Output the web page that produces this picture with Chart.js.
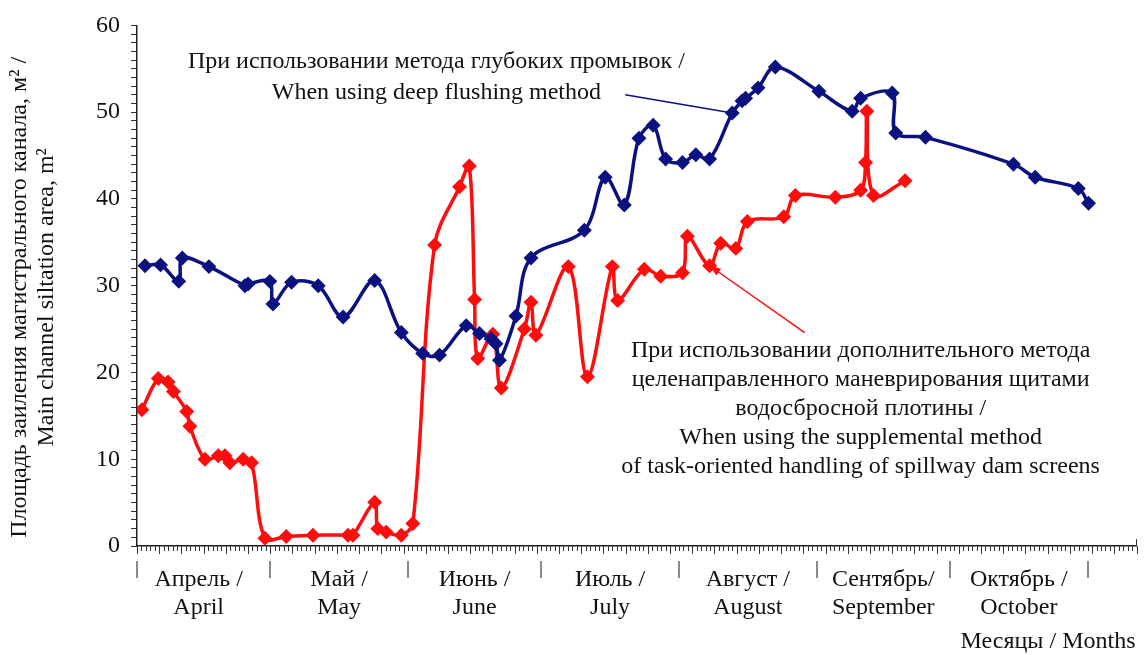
<!DOCTYPE html>
<html lang="ru">
<head>
<meta charset="utf-8">
<title>Площадь заиления магистрального канала</title>
<script src="https://cdn.jsdelivr.net/npm/chart.js@4.4.1/dist/chart.umd.min.js"></script>
<style>
  html, body { margin: 0; padding: 0; background: #fff; }
  canvas { display: block; }
</style>
</head>
<body>
<canvas id="siltChart" width="1145" height="655"></canvas>
<script>
// x is counted in days from 1 April
const monthNames = [
  ['Апрель /', 'April'], ['Май /', 'May'], ['Июнь /', 'June'], ['Июль /', 'July'],
  ['Август /', 'August'], ['Сентябрь/', 'September'], ['Октябрь /', 'October']
];
const monthStarts = [0, 30, 61, 91, 122, 153, 183, 214];

// deep flushing only
const flushDays = [1.8, 5.3, 9.4, 10.2, 16.2, 24.3, 25.0, 29.9, 30.6, 34.8, 40.8, 46.4, 53.5, 59.5,
  64.3, 68.1, 74.1, 77.1, 79.7, 80.8, 81.6, 85.3, 88.7, 100.7, 105.4, 109.7, 113.0, 116.2, 119.0,
  122.8, 125.8, 128.9, 134.0, 136.2, 137.0, 139.8, 143.7, 153.5, 161.0, 162.9, 170.0, 170.8, 177.5,
  197.3, 202.2, 211.9, 214.2];
const flushArea = [32.3, 32.4, 30.5, 33.2, 32.2, 30.0, 30.2, 30.5, 27.9, 30.4, 30.0, 26.4, 30.6, 24.6,
  22.2, 22.0, 25.4, 24.5, 23.9, 23.3, 21.4, 26.5, 33.2, 36.4, 42.5, 39.3, 47.0, 48.5, 44.6,
  44.2, 45.1, 44.6, 49.9, 51.3, 51.6, 52.8, 55.2, 52.4, 50.1, 51.6, 52.2, 47.6, 47.1,
  44.0, 42.5, 41.2, 39.5];

// flushing plus spillway gate manoeuvring
const gateDays = [1.1, 4.8, 7.0, 8.2, 11.2, 11.9, 15.3, 18.3, 19.8, 20.9, 23.9, 25.8, 28.8, 33.6,
  39.6, 47.5, 48.6, 53.5, 54.2, 56.1, 59.5, 62.1, 67.0, 72.6, 74.8, 76.0, 76.7, 80.1, 82.0, 87.2,
  88.7, 89.8, 97.1, 101.4, 107.0, 108.2, 114.2, 117.9, 122.8, 123.9, 128.9, 131.4, 134.8, 137.4,
  145.6, 148.2, 157.2, 162.9, 164.0, 164.3, 165.8, 172.9];
const gateArea = [15.7, 19.3, 18.9, 17.8, 15.5, 13.8, 10.0, 10.4, 10.4, 9.6, 10.0, 9.6, 0.9, 1.1,
  1.25, 1.25, 1.25, 5.05, 2.0, 1.6, 1.25, 2.6, 34.7, 41.4, 43.8, 28.4, 21.6, 24.4, 18.2, 25.0,
  28.1, 24.3, 32.2, 19.5, 32.2, 28.3, 31.9, 31.1, 31.5, 35.7, 32.3, 34.9, 34.3, 37.4,
  37.95, 40.4, 40.2, 41.0, 44.2, 50.1, 40.4, 42.1];

const flushNote = ['При использовании метода глубоких промывок /', 'When using deep flushing method'];
const gateNote = [
  'При использовании дополнительного метода',
  'целенаправленного маневрирования щитами',
  'водосбросной плотины /',
  'When using the supplemental method',
  'of task-oriented handling of spillway dam screens'
];
const yTitle = ['Площадь заиления магистрального канала, м² /', 'Main channel siltation area, m²'];
const xTitle = 'Месяцы / Months';

const NAVY = '#0b1280';
const RED = '#ff0d0d';
const INK = '#111';
const SERIF = '24px "Liberation Serif", "Times New Roman", serif';

function toPoints(xs, ys) {
  return xs.map((d, i) => ({ x: d, y: ys[i] }));
}

// axis ticks, month captions and the two callouts
const decorations = {
  id: 'decorations',
  afterDraw(chart) {
    const { ctx, chartArea: area, scales: { x, y } } = chart;
    ctx.save();

    // one tick per day, longer every fifth day
    ctx.strokeStyle = '#333';
    ctx.lineWidth = 1;
    ctx.beginPath();
    for (let d = 0; d <= x.max; d++) {
      const px = Math.round(x.getPixelForValue(d)) + 0.5;
      ctx.moveTo(px, area.bottom);
      ctx.lineTo(px, area.bottom + (d % 5 === 0 ? 8 : 5));
    }
    const xr = Math.round(area.right) - 0.5;
    ctx.moveTo(xr, area.bottom);
    ctx.lineTo(xr, area.bottom - 7);
    ctx.stroke();

    // month boundaries
    ctx.strokeStyle = '#8a8a8a';
    ctx.lineWidth = 2;
    ctx.beginPath();
    monthStarts.forEach(d => {
      const px = Math.round(x.getPixelForValue(d));
      ctx.moveTo(px, area.bottom + 15);
      ctx.lineTo(px, area.bottom + 32);
    });
    ctx.stroke();

    ctx.fillStyle = INK;
    ctx.font = SERIF;
    ctx.textAlign = 'center';
    ctx.textBaseline = 'middle';
    monthNames.forEach((lines, i) => {
      const cx = x.getPixelForValue((monthStarts[i] + monthStarts[i + 1]) / 2) - (i === 0 ? 5 : 0);
      lines.forEach((t, j) => ctx.fillText(t, cx, area.bottom + 34 + j * 28));
    });
    ctx.textAlign = 'right';
    ctx.fillText(xTitle, area.right - 1, area.bottom + 96);

    // rotated y title
    ctx.save();
    ctx.translate(area.left - 117, area.top + 272);
    ctx.rotate(-Math.PI / 2);
    ctx.textAlign = 'center';
    yTitle.forEach((t, j) => ctx.fillText(t, 0, j * 27));
    ctx.restore();

    // callout for the deep flushing curve
    ctx.textAlign = 'center';
    flushNote.forEach((t, j) => ctx.fillText(t, x.getPixelForValue(67.4), y.getPixelForValue(55.8) + j * 31));
    ctx.strokeStyle = NAVY;
    ctx.lineWidth = 1.5;
    ctx.beginPath();
    ctx.moveTo(x.getPixelForValue(109.9), y.getPixelForValue(52.0));
    ctx.lineTo(x.getPixelForValue(134.0), y.getPixelForValue(49.9));
    ctx.stroke();

    // callout for the gate manoeuvring curve
    gateNote.forEach((t, j) => ctx.fillText(t, x.getPixelForValue(162.9), y.getPixelForValue(22.5) + j * 29));
    const x0 = x.getPixelForValue(150.3), y0 = y.getPixelForValue(24.6);
    const x1 = x.getPixelForValue(128.9), y1 = y.getPixelForValue(32.3);
    ctx.strokeStyle = RED;
    ctx.fillStyle = RED;
    ctx.beginPath();
    ctx.moveTo(x0, y0);
    ctx.lineTo(x1, y1);
    ctx.stroke();
    const ang = Math.atan2(y1 - y0, x1 - x0);
    ctx.beginPath();
    ctx.moveTo(x1, y1);
    ctx.lineTo(x1 - 12 * Math.cos(ang - 0.35), y1 - 12 * Math.sin(ang - 0.35));
    ctx.lineTo(x1 - 12 * Math.cos(ang + 0.35), y1 - 12 * Math.sin(ang + 0.35));
    ctx.closePath();
    ctx.fill();

    ctx.restore();
  }
};

const seriesStyle = {
  showLine: true,
  borderWidth: 3.5,
  tension: 0.35,
  pointStyle: 'rectRot',
  pointRadius: 5,
  pointHoverRadius: 5
};

new Chart(document.getElementById('siltChart'), {
  type: 'scatter',
  data: {
    datasets: [
      Object.assign({
        label: flushNote[1],
        data: toPoints(flushDays, flushArea),
        borderColor: NAVY,
        backgroundColor: NAVY
      }, seriesStyle),
      Object.assign({
        label: gateNote[3],
        data: toPoints(gateDays, gateArea),
        borderColor: RED,
        backgroundColor: RED
      }, seriesStyle)
    ]
  },
  options: {
    responsive: false,
    animation: false,
    events: [],
    layout: { padding: { top: 20, right: 4, left: 0, bottom: 0 } },
    plugins: {
      legend: { display: false },
      tooltip: { enabled: false }
    },
    scales: {
      x: {
        type: 'linear',
        min: 0,
        max: 225,
        grid: { display: false },
        ticks: { display: false },
        border: { color: '#222', width: 1.5 },
        afterFit: s => { s.height = 109; }
      },
      y: {
        min: 0,
        max: 60,
        ticks: {
          stepSize: 1,
          autoSkip: false,
          padding: 11,
          color: INK,
          font: { family: '"Liberation Serif", "Times New Roman", serif', size: 24 },
          callback: v => (v % 10 === 0 ? v : '')
        },
        grid: { drawOnChartArea: false, tickLength: 6, color: '#333' },
        border: { color: '#222', width: 1.5 },
        afterFit: s => { s.width = 137; }
      }
    }
  },
  plugins: [decorations]
});
</script>
</body>
</html>
